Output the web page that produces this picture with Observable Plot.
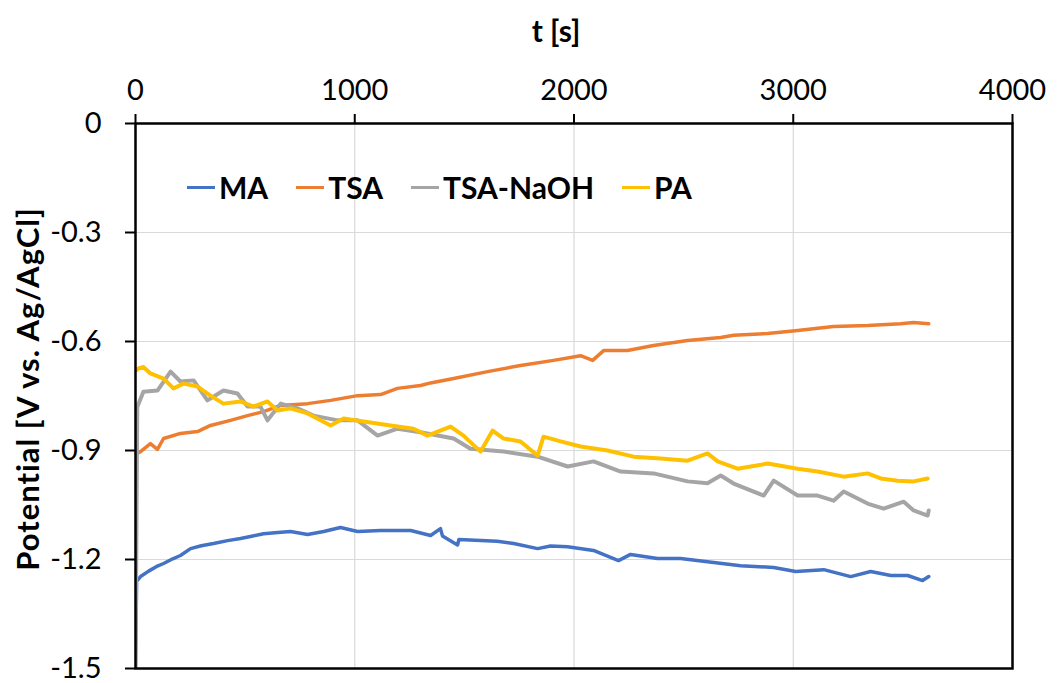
<!DOCTYPE html>
<html>
<head>
<meta charset="utf-8">
<script src="https://cdn.jsdelivr.net/npm/d3@7"></script>
<script src="https://cdn.jsdelivr.net/npm/@observablehq/plot@0.6"></script>
<style>
  html, body { margin: 0; padding: 0; background: #fff; }
  #wrap { position: relative; width: 1059px; height: 683px; font-family: Lato, "Open Sans", sans-serif; color: #000; }
  #xtitle { position: absolute; left: 556px; top: 12px; transform: translateX(-50%); font-weight: bold; font-size: 30px; line-height: 36px; white-space: nowrap; }
  #ytitle { position: absolute; left: 27px; top: 389px; transform: translate(-50%, -50%) rotate(-90deg); font-weight: bold; font-size: 31px; letter-spacing: 1px; line-height: 36px; white-space: nowrap; }
  #legend { position: absolute; left: 187px; top: 169px; display: flex; gap: 28px; font-weight: bold; font-size: 30px; line-height: 36px; }
  .item { display: flex; align-items: center; gap: 4px; }
  .sw { width: 28px; height: 3px; }
</style>
</head>
<body>
<div id="wrap">
  <div id="chart"></div>
  <div id="xtitle">t [s]</div>
  <div id="ytitle">Potential [V vs. Ag/AgCl]</div>
  <div id="legend"></div>
</div>
<script>
// ---- data ----
const seriesNames = ["MA", "TSA", "TSA-NaOH", "PA"];
const seriesColors = ["#4472C4", "#ED7D31", "#A5A5A5", "#FFC000"];

const maT = [0, 5, 23, 60, 100, 128, 170, 205, 251, 300, 356, 420, 479, 530, 584, 650, 707, 785, 858, 935, 1013, 1118, 1255, 1346, 1391, 1400, 1469, 1475, 1574, 1650, 1725, 1834, 1893, 1971, 2089, 2203, 2258, 2381, 2486, 2609, 2760, 2911, 3011, 3139, 3262, 3353, 3445, 3522, 3590, 3618];
const maV = [-1.50, -1.26, -1.247, -1.232, -1.218, -1.211, -1.198, -1.189, -1.170, -1.162, -1.156, -1.148, -1.142, -1.136, -1.129, -1.126, -1.123, -1.131, -1.123, -1.112, -1.123, -1.120, -1.120, -1.134, -1.115, -1.135, -1.160, -1.145, -1.148, -1.150, -1.156, -1.170, -1.163, -1.165, -1.175, -1.203, -1.186, -1.197, -1.197, -1.206, -1.217, -1.222, -1.233, -1.228, -1.247, -1.233, -1.244, -1.244, -1.258, -1.247];

const tsaT = [0, 23, 68, 100, 128, 205, 283, 342, 433, 511, 584, 662, 785, 890, 1013, 1118, 1195, 1300, 1346, 1451, 1606, 1756, 1907, 2030, 2085, 2135, 2244, 2363, 2518, 2669, 2728, 2883, 3020, 3184, 3339, 3490, 3549, 3618];
const tsaV = [-0.91, -0.903, -0.881, -0.897, -0.867, -0.853, -0.848, -0.831, -0.817, -0.804, -0.793, -0.776, -0.771, -0.762, -0.749, -0.746, -0.729, -0.721, -0.714, -0.702, -0.683, -0.666, -0.652, -0.639, -0.652, -0.625, -0.625, -0.611, -0.597, -0.589, -0.583, -0.578, -0.570, -0.559, -0.556, -0.551, -0.548, -0.551];

const naohT = [0, 8, 36, 100, 160, 205, 265, 328, 401, 465, 511, 570, 602, 662, 739, 812, 922, 1013, 1104, 1195, 1300, 1451, 1528, 1679, 1834, 1971, 2089, 2213, 2363, 2518, 2609, 2669, 2728, 2865, 2911, 3020, 3111, 3184, 3230, 3339, 3412, 3504, 3549, 3613, 3618];
const naohV = [-1.50, -0.78, -0.738, -0.735, -0.683, -0.710, -0.707, -0.762, -0.735, -0.743, -0.779, -0.779, -0.817, -0.771, -0.784, -0.804, -0.817, -0.817, -0.859, -0.840, -0.850, -0.867, -0.895, -0.903, -0.917, -0.944, -0.930, -0.958, -0.963, -0.985, -0.990, -0.969, -0.991, -1.024, -0.983, -1.024, -1.024, -1.038, -1.013, -1.046, -1.060, -1.041, -1.065, -1.079, -1.065];

const paT = [0, 14, 36, 68, 128, 173, 219, 283, 342, 401, 479, 538, 602, 648, 707, 785, 890, 949, 1040, 1163, 1268, 1332, 1437, 1496, 1574, 1629, 1679, 1756, 1834, 1861, 1939, 2030, 2153, 2272, 2395, 2518, 2609, 2655, 2746, 2883, 3020, 3111, 3230, 3339, 3399, 3476, 3549, 3613];
const paV = [-0.68, -0.674, -0.670, -0.688, -0.702, -0.729, -0.716, -0.724, -0.749, -0.771, -0.765, -0.779, -0.765, -0.790, -0.784, -0.798, -0.831, -0.812, -0.820, -0.831, -0.840, -0.859, -0.834, -0.859, -0.903, -0.845, -0.867, -0.875, -0.914, -0.862, -0.875, -0.889, -0.900, -0.917, -0.922, -0.928, -0.908, -0.930, -0.950, -0.936, -0.950, -0.958, -0.972, -0.963, -0.977, -0.983, -0.985, -0.977];

const xTicks = [0, 1000, 2000, 3000, 4000];
const yTicks = [-1.5, -1.2, -0.9, -0.6, -0.3, 0];

// ---- build table ----
const raw = [[maT, maV], [tsaT, tsaV], [naohT, naohV], [paT, paV]];
const data = [];
raw.forEach(([ts, vs], i) => ts.forEach((t, j) => data.push({series: seriesNames[i], t, v: vs[j]})));

const widths = {"MA": 3.5, "TSA": 3.5, "TSA-NaOH": 4, "PA": 4};

const chart = Plot.plot({
  width: 1059,
  height: 683,
  marginLeft: 135,
  marginRight: 47,
  marginTop: 123,
  marginBottom: 15,
  style: {fontFamily: "Lato, 'Open Sans', sans-serif", fontSize: "29px", color: "#000", background: "#fff", overflow: "visible"},
  x: {domain: [0, 4000]},
  y: {domain: [-1.5, 0]},
  color: {domain: seriesNames, range: seriesColors},
  marks: [
    Plot.gridX(xTicks.slice(1, -1), {stroke: "#d9d9d9", strokeOpacity: 1, strokeWidth: 1.2}),
    Plot.gridY(yTicks.slice(1, -1), {stroke: "#d9d9d9", strokeOpacity: 1, strokeWidth: 1.2}),
    ...seriesNames.map(name => Plot.line(data.filter(d => d.series === name), {
      x: "t", y: "v", stroke: "series", strokeWidth: widths[name], strokeLinejoin: "round", clip: true
    })),
    Plot.frame({stroke: "#000", strokeWidth: 2.5}),
    Plot.axisX(xTicks, {anchor: "top", tickSize: 10, tickPadding: 14, strokeWidth: 2, tickFormat: d => String(d), label: null, fontSize: 29}),
    Plot.axisY(yTicks, {anchor: "left", tickSize: 10, tickPadding: 24, strokeWidth: 2, tickFormat: d => d === 0 ? "0" : d.toFixed(1), label: null, fontSize: 29})
  ]
});
document.getElementById("chart").appendChild(chart);

// legend
const leg = document.getElementById("legend");
seriesNames.forEach((n, i) => {
  const it = document.createElement("div");
  it.className = "item";
  const sw = document.createElement("div");
  sw.className = "sw";
  sw.style.background = seriesColors[i];
  const tx = document.createElement("span");
  tx.textContent = n;
  it.appendChild(sw); it.appendChild(tx);
  leg.appendChild(it);
});
</script>
</body>
</html>
